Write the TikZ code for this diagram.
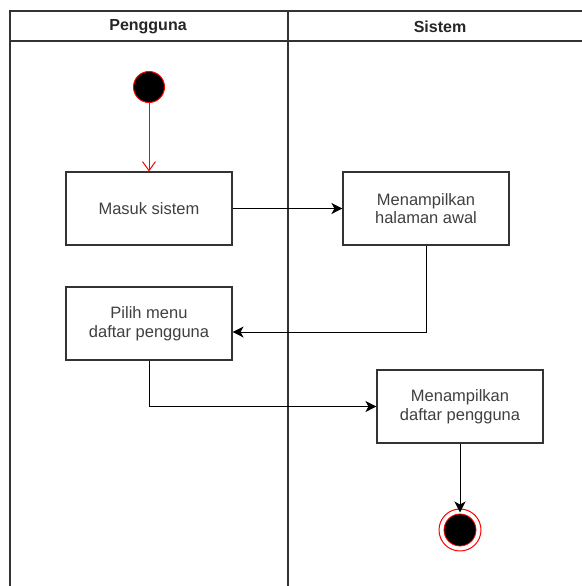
\documentclass[tikz,border=0pt]{standalone}
\usepackage{fontspec}
\setmainfont{Liberation Sans}
\usetikzlibrary{arrows.meta}
\begin{document}
\begin{tikzpicture}[x=1pt,y=-1pt,
  lane/.style={draw=black!80,line width=1.1pt},
  action/.style={draw=black!80,line width=1.1pt,minimum width=166pt,minimum height=73pt,
    align=center,text=black!75,font=\fontsize{16.5}{18.5}\selectfont,inner sep=2pt},
  lanetitle/.style={text=black!85,font=\fontsize{16}{18}\selectfont\bfseries},
  flow/.style={draw=black,line width=1pt,-{Stealth[length=11pt,width=11pt,inset=3pt]}},
  startflow/.style={draw=red,line width=1pt,-{Straight Barb[length=9pt,width=13pt]}},
  initial/.style={circle,fill=black,draw=red,line width=1pt,minimum size=31pt,inner sep=0pt},
  finalring/.style={circle,fill=white,draw=red,line width=1pt,minimum size=42pt,inner sep=0pt},
  finaldot/.style={fill=black,draw=red,line width=0.8pt}]
\useasboundingbox (0,0) rectangle (581,586);
\fill[white] (0,0) rectangle (581,586);

% swimlane pool with two lanes
\draw[lane] (10,11) rectangle (592,600);
\draw[lane] (10,41) -- (592,41);
\draw[lane] (288,11) -- (288,600);
\node[lanetitle] (t1) at (148,26.5) {Pengguna};
\node[lanetitle] (t2) at (440,26.5) {Sistem};

% activity nodes
\node[initial] (start) at (149,87) {};
\node[action] (masuk) at (149,208.5) {Masuk sistem};
\node[action] (awal) at (426,208.5) {Menampilkan\\halaman awal};
\node[action] (pilih) at (149,323.5) {Pilih menu\\daftar pengguna};
\node[action] (daftar) at (460,406.5) {Menampilkan\\daftar pengguna};
\node[finalring] (stop) at (460,530) {};
\draw[finaldot] (stop.center) circle (16pt);

% control flow
\draw[startflow] (start) -- (masuk);
\draw[flow] (masuk) -- (awal);
\coordinate (pin) at ([yshift=-8.5pt]pilih.east);
\draw[flow] (awal.south) |- (pin);
\draw[flow] (pilih.south) |- (daftar.west);
\draw[flow] (daftar.south) -- ([yshift=-4pt]stop.north);
\end{tikzpicture}
\end{document}
